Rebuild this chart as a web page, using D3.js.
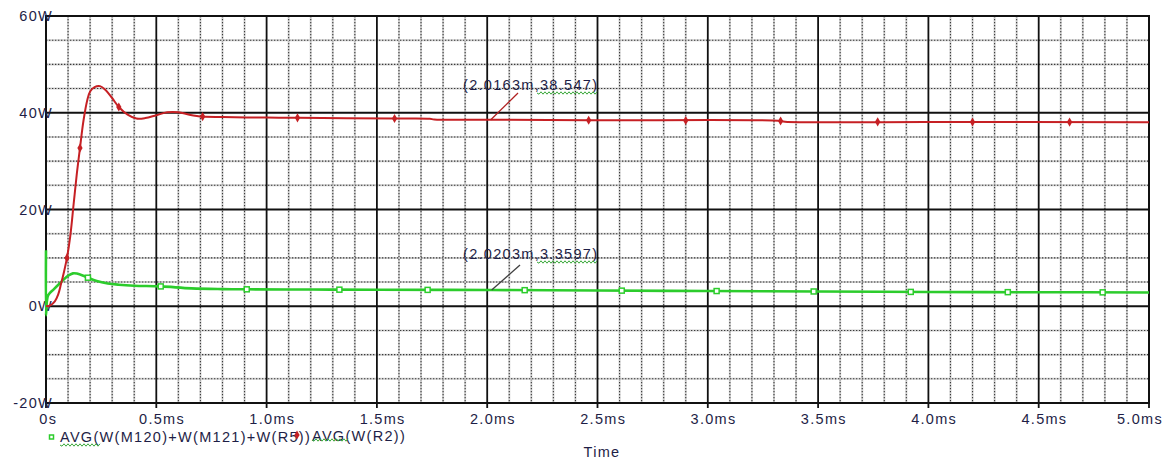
<!DOCTYPE html>
<html>
<head>
<meta charset="utf-8">
<script src="https://cdn.jsdelivr.net/npm/d3@7/dist/d3.min.js"></script>
<style>
  html, body { margin: 0; padding: 0; background: #fff; }
  svg text { font-family: "Liberation Sans", Arial, sans-serif; }
</style>
</head>
<body>
<svg id="chart" width="1170" height="462"></svg>
<script>
// ---- data ----
const timeMs  = [0, 0.5, 1.0, 1.5, 2.0, 2.5, 3.0, 3.5, 4.0, 4.5, 5.0];
const xTickLabels = ["0s", "0.5ms", "1.0ms", "1.5ms", "2.0ms", "2.5ms", "3.0ms", "3.5ms", "4.0ms", "4.5ms", "5.0ms"];
const powerW = [-20, 0, 20, 40, 60];
const yTickLabels = ["-20W", "0W", "20W", "40W", "60W"];

// AVG(W(R2)) : [time ms, watts]
const r2Avg = [
  [0, 0], [0.02, 0.2], [0.04, 1.0], [0.055, 2.4], [0.068, 4.6], [0.082, 7.2],
  [0.095, 10.0], [0.11, 14.5], [0.125, 21.0], [0.14, 27.5], [0.154, 32.7],
  [0.17, 38.4], [0.187, 42.6], [0.2, 44.4], [0.22, 45.3], [0.245, 45.5],
  [0.27, 44.7], [0.3, 43.0], [0.33, 41.2], [0.37, 39.6], [0.41, 38.8],
  [0.45, 38.9], [0.5, 39.5], [0.55, 40.1], [0.6, 40.1], [0.65, 39.6],
  [0.71, 39.2], [0.8, 39.1], [1.0, 39.0], [1.14, 38.95], [1.58, 38.8],
  [1.74, 38.75], [1.76, 38.6], [2.0163, 38.547], [2.46, 38.45], [3.32, 38.35],
  [3.35, 38.15], [4.0, 38.1], [5.0, 38.05]
];
const r2Markers = [0.095, 0.154, 0.33, 0.71, 1.14, 1.58, 2.46, 2.90, 3.33, 3.77, 4.20, 4.64];

// AVG(W(M120)+W(M121)+W(R5)) : [time ms, watts]
const mosAvg = [
  [0, 11.6], [0, -1.9], [0.004, 1.0], [0.01, 2.3], [0.035, 3.5], [0.063, 4.75],
  [0.1, 6.3], [0.122, 6.8], [0.14, 6.75], [0.17, 6.3], [0.19, 5.9],
  [0.23, 5.2], [0.28, 4.7], [0.33, 4.45], [0.4, 4.25], [0.52, 4.1],
  [0.66, 3.7], [0.8, 3.55], [0.91, 3.5], [1.2, 3.45], [1.5, 3.4],
  [2.0203, 3.3597], [2.5, 3.25], [3.0, 3.15], [3.5, 3.05], [4.0, 2.95],
  [4.5, 2.9], [5.0, 2.85]
];
const mosMarkers = [0.19, 0.52, 0.91, 1.33, 1.73, 2.17, 2.61, 3.04, 3.48, 3.92, 4.36, 4.79];

const cursorR2  = { t: 2.0163, w: 38.547, label: "(2.0163m,38.547)" };
const cursorMos = { t: 2.0203, w: 3.3597, label: "(2.0203m,3.3597)" };

const legendLabels = ["AVG(W(M120)+W(M121)+W(R5))", "AVG(W(R2))"];
const xAxisTitle = "Time";

// ---- layout ----
const svg = d3.select("#chart");
const plotL = 46, plotR = 1149, plotT = 16, plotB = 403;
const x = d3.scaleLinear().domain([0, 5]).range([plotL, plotR]);
const y = d3.scaleLinear().domain([-20, 60]).range([plotB, plotT]);

const textColor = "#1e1e46";
const red = "#c62024";
const green = "#2ccc2c";

// ---- grid ----
const grid = svg.append("g");
const minorX = d3.range(0, 5.0001, 0.1).filter(v => Math.abs(v / 0.5 - Math.round(v / 0.5)) > 1e-6);
const minorY = d3.range(-20, 60.0001, 5).filter(v => v % 20 !== 0);

function minorLine(sel) {
  sel.append("line").attr("stroke", "#cfcfcf").attr("stroke-width", 2);
  sel.append("line").attr("stroke", "#3a3a3a").attr("stroke-width", 1.1).attr("stroke-dasharray", "1.3,1.7");
}
minorX.forEach(v => {
  const g = grid.append("g"); minorLine(g);
  g.selectAll("line").attr("x1", x(v)).attr("x2", x(v)).attr("y1", plotT).attr("y2", plotB);
});
minorY.forEach(v => {
  const g = grid.append("g"); minorLine(g);
  g.selectAll("line").attr("x1", plotL).attr("x2", plotR).attr("y1", y(v)).attr("y2", y(v));
});

// major lines
grid.selectAll(".mx").data(timeMs).enter().append("line")
  .attr("x1", d => x(d)).attr("x2", d => x(d)).attr("y1", plotT).attr("y2", plotB + 5)
  .attr("stroke", "#111").attr("stroke-width", 1.8);
grid.selectAll(".my").data(powerW).enter().append("line")
  .attr("x1", plotL).attr("x2", plotR).attr("y1", d => y(d)).attr("y2", d => y(d))
  .attr("stroke", "#111").attr("stroke-width", 1.8);
grid.append("rect").attr("x", plotL).attr("y", plotT).attr("width", plotR - plotL).attr("height", plotB - plotT)
  .attr("fill", "none").attr("stroke", "#111").attr("stroke-width", 2);

// ---- tick labels ----
const labelStyle = s => s.attr("fill", textColor).attr("font-size", "14.5px").attr("letter-spacing", "1.3px");
svg.append("g").selectAll("text").data(timeMs).enter().append("text")
  .call(labelStyle).attr("text-anchor", "middle")
  .attr("y", 424).text((d, i) => xTickLabels[i])
  .attr("x", function (d) {
    const w = this.getComputedTextLength();
    // keep the last label inside the window
    return Math.min(x(d) + w / 8, 1163 - w / 2);
  });
svg.append("g").selectAll("text").data(powerW).enter().append("text")
  .call(labelStyle).attr("text-anchor", "end")
  .attr("x", 53).attr("y", d => y(d) + 5).text((d, i) => yTickLabels[i]);
svg.append("text").call(labelStyle).attr("text-anchor", "middle")
  .attr("x", 602).attr("y", 457).text(xAxisTitle);

// ---- series ----
const line = d3.line().x(d => x(d[0])).y(d => y(d[1])).curve(d3.curveCatmullRom.alpha(0.5));
const interp = (data, t) => {
  for (let i = 1; i < data.length; i++) {
    if (data[i][0] >= t) {
      const [t0, v0] = data[i - 1], [t1, v1] = data[i];
      return t1 === t0 ? v1 : v0 + (v1 - v0) * (t - t0) / (t1 - t0);
    }
  }
  return data[data.length - 1][1];
};

svg.append("path").datum(mosAvg).attr("d", line)
  .attr("fill", "none").attr("stroke", green).attr("stroke-width", 2.6).attr("stroke-linejoin", "round");
svg.append("g").selectAll("rect").data(mosMarkers).enter().append("rect")
  .attr("x", d => x(d) - 2.5).attr("y", d => y(interp(mosAvg, d)) - 2.5)
  .attr("width", 5).attr("height", 5).attr("fill", "#fff").attr("stroke", green).attr("stroke-width", 1.5);

svg.append("path").datum(r2Avg).attr("d", line)
  .attr("fill", "none").attr("stroke", red).attr("stroke-width", 2).attr("stroke-linejoin", "round");
const diamond = d3.symbol().type(d3.symbolDiamond).size(24);
svg.append("g").selectAll("path").data(r2Markers).enter().append("path")
  .attr("d", diamond)
  .attr("transform", d => `translate(${x(d)},${y(interp(r2Avg, d))})`)
  .attr("fill", red);

// ---- wavy underline helper ----
function wavy(x0, x1, yy) {
  let d = `M${x0},${yy}`;
  for (let xx = x0, k = 0; xx < x1; xx += 2, k++) d += `L${xx + 2},${yy + (k % 2 ? -1.2 : 1.2)}`;
  svg.append("path").attr("d", d).attr("fill", "none").attr("stroke", "#3aa83a").attr("stroke-width", 1);
}

// ---- cursor annotations ----
function cursor(c, textY, lineColor, tx0, ty0) {
  svg.append("line")
    .attr("x1", tx0).attr("y1", ty0).attr("x2", x(c.t)).attr("y2", y(c.w))
    .attr("stroke", lineColor).attr("stroke-width", 1.3);
  const t = svg.append("text").call(labelStyle).attr("x", 463).attr("y", textY).text(c.label);
  const w = t.node().getComputedTextLength();
  wavy(537, 463 + w - 2, textY + 3);
}
cursor(cursorR2, 90, "#b02020", 518, 93);
cursor(cursorMos, 259, "#404040", 520, 265);

// ---- legend ----
svg.append("rect").attr("x", 49.5).attr("y", 435).attr("width", 4).attr("height", 4)
  .attr("fill", "#fff").attr("stroke", green).attr("stroke-width", 1.5);
svg.append("text").call(labelStyle).attr("x", 60).attr("y", 442).text(legendLabels[0]);
wavy(60, 100, 445);
svg.append("path").attr("d", diamond).attr("transform", "translate(297,435)").attr("fill", red);
svg.append("text").call(labelStyle).attr("x", 312).attr("y", 441).text(legendLabels[1]);
wavy(312, 348, 440);
</script>
</body>
</html>
